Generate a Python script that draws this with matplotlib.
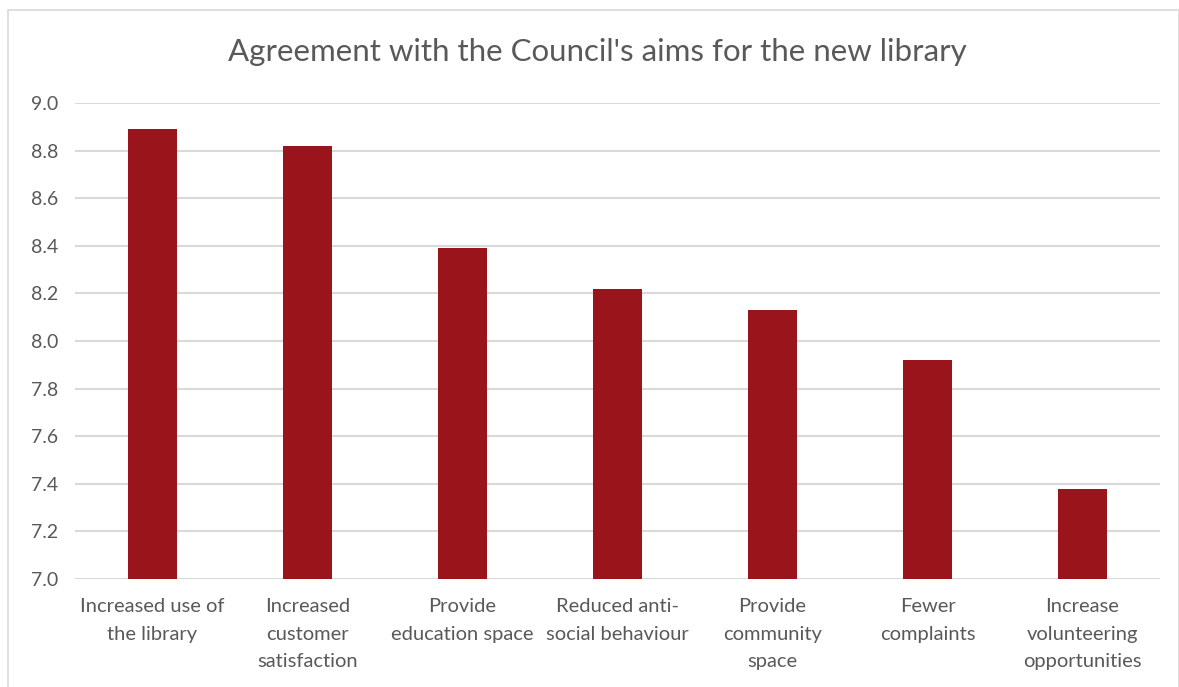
import matplotlib.pyplot as plt
from matplotlib.patches import Rectangle

# Datos
categorias = [
    "Increased use of\nthe library",
    "Increased\ncustomer\nsatisfaction",
    "Provide\neducation space",
    "Reduced anti-\nsocial behaviour",
    "Provide\ncommunity\nspace",
    "Fewer\ncomplaints",
    "Increase\nvolunteering\nopportunities",
]
valores = [8.89, 8.82, 8.39, 8.22, 8.13, 7.92, 7.38]
ticks_y = [7.0, 7.2, 7.4, 7.6, 7.8, 8.0, 8.2, 8.4, 8.6, 8.8, 9.0]

GRIS_TEXTO = "#595959"
plt.rcParams['font.family'] = ['Lato', 'DejaVu Sans']

W, H = 1179, 687
fig = plt.figure(figsize=(W / 100, H / 100), dpi=100)
ax = fig.add_axes([75 / W, (H - 579) / H, (1160 - 75) / W, (579 - 103) / H])

# borde del grafico (sale por abajo como en la captura)
fig.patches.append(Rectangle((8 / W, -0.05), 1 - 8 / W - 0.5 / W, 1.05 - 10 / H,
                             transform=fig.transFigure, fill=False,
                             edgecolor="#d9d9d9", linewidth=1.2))

x = range(len(categorias))
ax.bar(x, valores, width=0.31, color="#9A141C", zorder=3)

ax.set_ylim(7.0, 9.0)
ax.set_xlim(-0.5, len(categorias) - 0.5)
ax.set_yticks(ticks_y)
ax.set_yticklabels(["{:.1f}".format(t) for t in ticks_y])
ax.set_xticks(list(x))
ax.set_xticklabels(categorias, linespacing=1.75, va="top")
ax.tick_params(axis="both", length=0, colors=GRIS_TEXTO)
ax.tick_params(axis="x", pad=14, labelsize=14.5)
ax.tick_params(axis="y", pad=12, labelsize=14)
ax.grid(axis="y", color="#d9d9d9", linewidth=1.5, zorder=0)
for s in ax.spines.values():
    s.set_visible(False)

fig.text(597 / W, (H - 52) / H, "Agreement with the Council's aims for the new library",
         ha="center", va="center", fontsize=22.5, color=GRIS_TEXTO)

fig.savefig("out.png", dpi=100)
